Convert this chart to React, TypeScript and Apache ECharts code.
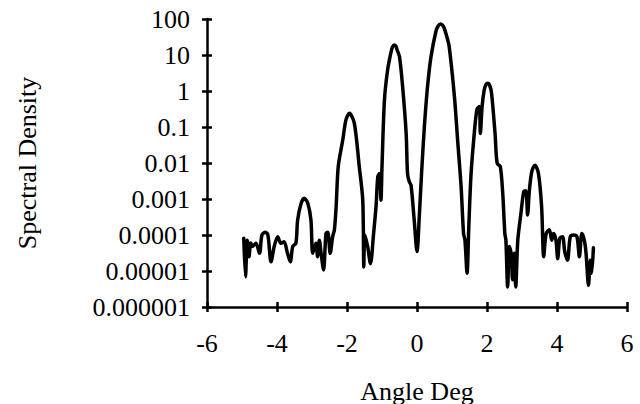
import React, { useEffect, useRef } from "react";
import * as echarts from "echarts";

const angles: number[] = [
  -4.95, -4.9, -4.85, -4.8, -4.75, -4.7, -4.6, -4.5, -4.43, -4.33, -4.26, -4.17, -4.08, -3.98, -3.89, -3.8,
  -3.7, -3.62, -3.55, -3.46, -3.41, -3.31, -3.22, -3.12, -3.03, -2.98, -2.89, -2.84, -2.79, -2.74, -2.67,
  -2.6, -2.55, -2.48, -2.41, -2.36, -2.31, -2.25, -2.12, -2.03, -1.93, -1.79, -1.65, -1.55, -1.52, -1.49,
  -1.41, -1.33, -1.24, -1.17, -1.12, -1.07, -1.03, -1.0, -0.93, -0.84, -0.74, -0.7, -0.65, -0.6, -0.57,
  -0.5, -0.41, -0.31, -0.27, -0.22, -0.17, -0.08, 0, 0.07, 0.13, 0.21, 0.3, 0.4, 0.54, 0.6, 0.67, 0.73,
  0.78, 0.85, 0.92, 1.07, 1.16, 1.26, 1.33, 1.37, 1.43, 1.48, 1.54, 1.62, 1.71, 1.78, 1.81, 1.86, 1.92,
  1.97, 2.02, 2.08, 2.13, 2.23, 2.29, 2.38, 2.45, 2.51, 2.54, 2.59, 2.64, 2.69, 2.73, 2.78, 2.82, 2.88,
  2.97, 3.05, 3.11, 3.16, 3.21, 3.28, 3.37, 3.47, 3.56, 3.62, 3.69, 3.78, 3.85, 3.9, 3.97, 4.02, 4.08,
  4.16, 4.22, 4.3, 4.38, 4.48, 4.57, 4.64, 4.71, 4.78, 4.83, 4.9, 4.95, 4.99, 5.04,
];

const densities: number[] = [
  8.1e-5, 6.9e-6, 7.2e-5, 2.5e-5, 6e-5, 4.8e-5, 5.9e-5, 3.1e-5, 1.0e-4, 1.2e-4, 1.0e-4, 1.8e-5, 4.8e-5, 9e-5, 5.9e-5, 6.5e-5,
  3.1e-5, 1.8e-5, 4.8e-5, 5.9e-5, 2.6e-4, 7.6e-4, 1.05e-3, 7.6e-4, 2.6e-4, 3.1e-5, 5.9e-5, 2.5e-5, 7.2e-5, 3.1e-5, 1.07e-5,
  1.1e-4, 1.2e-4, 3.1e-5, 9e-5, 1.4e-4, 6.2e-4, 8e-3, 0.044, 0.157, 0.24, 0.126, 8e-3, 9.3e-4, 1.3e-5, 1.0e-4,
  4.8e-5, 1.6e-5, 1.1e-4, 6.2e-4, 4.2e-3, 5.1e-3, 9.3e-4, 8e-3, 0.56, 3.8, 12.3, 16.6, 19, 17.4, 14,
  9, 1.3, 0.066, 5.1e-3, 3e-3, 2.4e-3, 2.6e-4, 3.5e-5, 4e-4, 5.1e-3, 0.1, 1.3, 9, 45, 63, 73, 68,
  55, 33, 17, 0.69, 0.044, 2.2e-3, 1.1e-4, 7.2e-5, 8.7e-6, 1.7e-4, 4.2e-3, 0.044, 0.3, 0.37, 0.066, 0.37, 1.07,
  1.5, 1.63, 1.4, 0.87, 0.066, 9.8e-3, 8e-3, 1.4e-3, 1.1e-4, 7.2e-5, 3.6e-6, 4.8e-5, 3.1e-5, 5.7e-6, 3.1e-5, 3.6e-6, 7.2e-5,
  4e-4, 1.6e-3, 1.7e-3, 3.6e-4, 1.7e-3, 5.8e-3, 8.7e-3, 5.1e-3, 6.2e-4, 2.5e-5, 1.1e-4, 1.4e-4, 7.2e-5, 1.1e-4, 7.2e-5, 2.2e-5, 8.1e-5,
  9e-5, 3.5e-5, 2e-5, 9e-5, 1e-4, 9e-5, 2.5e-5, 1.1e-4, 7.2e-5, 3.1e-5, 4e-6, 2e-5, 8.7e-6, 4.4e-5,
];

const xTicks: number[] = [-6, -4, -2, 0, 2, 4, 6];
const yTickLabels: string[] = ["0.000001", "0.00001", "0.0001", "0.001", "0.01", "0.1", "1", "10", "100"];

const FONT = "'Liberation Serif', 'DejaVu Serif', serif";

export default function App() {
  const ref = useRef<HTMLDivElement>(null);
  useEffect(() => {
    if (!ref.current) return;
    const chart = echarts.init(ref.current, null, { renderer: "svg" });
    const axisCommon = {
      axisLine: { show: true, onZero: false, lineStyle: { color: "#000", width: 2.5 } },
      splitLine: { show: false },
    };
    chart.setOption({
      animation: false,
      backgroundColor: "#fff",
      grid: { left: 207, right: 13, top: 19, bottom: 97, containLabel: false, outerBoundsMode: "none" },
      xAxis: [
        {
          type: "value",
          min: xTicks[0],
          max: xTicks[xTicks.length - 1],
          interval: 2,
          position: "bottom",
          ...axisCommon,
          axisTick: { show: true, inside: false, length: 5, lineStyle: { color: "#000", width: 2.5 } },
          axisLabel: { color: "#000", fontFamily: FONT, fontSize: 26, margin: 23 },
          name: "Angle Deg",
          nameLocation: "middle",
          nameGap: 71,
          nameTextStyle: { color: "#000", fontFamily: FONT, fontSize: 26 },
        },
        {
          type: "value",
          min: xTicks[0],
          max: xTicks[xTicks.length - 1],
          interval: 2,
          position: "bottom",
          offset: 0,
          ...axisCommon,
          axisLine: { show: false, onZero: false },
          axisTick: { show: true, inside: true, length: 5, lineStyle: { color: "#000", width: 2.5 } },
          axisLabel: { show: false },
        },
      ],
      yAxis: [
        {
          type: "log",
          logBase: 10,
          min: 1e-6,
          max: 100,
          position: "left",
          ...axisCommon,
          axisTick: { show: true, inside: false, length: 5, lineStyle: { color: "#000", width: 2.5 } },
          axisLabel: {
            color: "#000",
            fontFamily: FONT,
            fontSize: 26,
            margin: 17,
            formatter: (v: number) => yTickLabels[Math.round(Math.log10(v)) + 6] ?? "",
          },
          name: "Spectral Density",
          nameLocation: "middle",
          nameGap: 167,
          nameTextStyle: { color: "#000", fontFamily: FONT, fontSize: 26 },
        },
        {
          type: "log",
          logBase: 10,
          min: 1e-6,
          max: 100,
          position: "left",
          offset: 0,
          ...axisCommon,
          axisLine: { show: false, onZero: false },
          axisTick: { show: true, inside: true, length: 5, lineStyle: { color: "#000", width: 2.5 } },
          axisLabel: { show: false },
        },
      ],
      series: [
        {
          type: "line",
          xAxisIndex: 0,
          yAxisIndex: 0,
          data: angles.map((a, i) => [a, densities[i]]),
          showSymbol: false,
          symbol: "none",
          smooth: 0.3,
          lineStyle: { color: "#000", width: 3.5, join: "round", cap: "round" },
        },
      ],
    });
    return () => chart.dispose();
  }, []);
  return <div ref={ref} style={{ width: 640, height: 404, position: "absolute", left: 0, top: 0 }} />;
}
